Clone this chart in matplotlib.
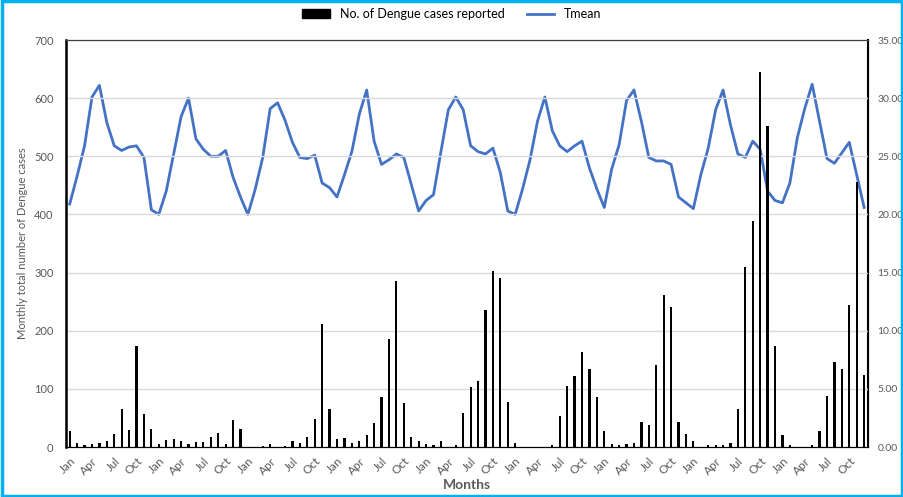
import numpy as np
import matplotlib.pyplot as plt
from matplotlib.patches import Patch
from matplotlib.lines import Line2D

plt.rcParams['font.family'] = ['Lato', 'DejaVu Sans']

# ---- data: 9 years of monthly values, Jan..Dec
month_names = ['Jan', 'Feb', 'Mar', 'Apr', 'May', 'Jun',
               'Jul', 'Aug', 'Sep', 'Oct', 'Nov', 'Dec']
n_years = 9

cases = [
    27, 7, 4, 5, 7, 11, 23, 65, 30, 173, 57, 31,
    5, 12, 14, 11, 5, 9, 9, 18, 24, 5, 47, 31,
    0, 0, 2, 5, 0, 2, 10, 7, 17, 48, 211, 66,
    14, 15, 7, 10, 20, 41, 86, 186, 285, 75, 17, 10,
    6, 3, 10, 0, 4, 58, 103, 114, 236, 302, 290, 77,
    7, 0, 0, 0, 0, 3, 54, 105, 122, 164, 134, 86,
    27, 6, 3, 5, 7, 43, 38, 141, 261, 241, 43, 23,
    10, 0, 3, 4, 3, 7, 65, 309, 389, 645, 552, 173,
    20, 3, 0, 0, 3, 28, 87, 146, 134, 245, 455, 124,
]

tmean = [
    20.9, 23.3, 25.9, 30.1, 31.1, 27.9, 25.9, 25.5, 25.8, 25.9, 24.9, 20.4,
    20.0, 22.0, 25.2, 28.4, 30.0, 26.5, 25.6, 25.0, 25.0, 25.5, 23.2, 21.5,
    20.0, 22.2, 24.9, 29.1, 29.6, 28.1, 26.2, 24.9, 24.8, 25.1, 22.7, 22.3,
    21.5, 23.4, 25.4, 28.6, 30.7, 26.3, 24.3, 24.7, 25.2, 24.9, 22.6, 20.3,
    21.2, 21.7, 25.4, 29.0, 30.1, 29.0, 25.9, 25.4, 25.2, 25.7, 23.6, 20.3,
    20.0, 22.2, 24.7, 28.0, 30.1, 27.2, 25.9, 25.4, 25.9, 26.3, 24.0, 22.2,
    20.6, 23.9, 26.0, 29.8, 30.7, 28.0, 24.9, 24.6, 24.6, 24.3, 21.5, 21.0,
    20.5, 23.4, 25.7, 29.0, 30.7, 27.7, 25.2, 24.9, 26.3, 25.6, 22.0, 21.2,
    21.0, 22.7, 26.6, 29.1, 31.2, 28.0, 24.8, 24.4, 25.3, 26.2, 23.4, 20.6,
]

labels = [month_names[k % 12] for k in range(n_years * 12)]
x = np.arange(len(cases))

grey = '#595959'
fig = plt.figure(figsize=(9.04, 4.97), dpi=100)
ax = fig.add_axes([0.073, 0.1006, 0.887, 0.8189])
ax2 = ax.twinx()

# line on the twin axis, bars drawn above it
ax2.plot(x, tmean, color='#4472C4', lw=2.0, zorder=2)
ax.bar(x, cases, width=0.3, color='black', zorder=3)
ax.set_zorder(ax2.get_zorder() + 1)
ax.patch.set_visible(False)

ax.set_xlim(-0.5, len(cases) - 0.5)
ax.set_ylim(0, 700)
ax.set_yticks(range(0, 701, 100))
ax2.set_ylim(0, 35)
ax2.set_yticks(range(0, 36, 5))
ax2.set_yticklabels([f'{v:.2f}' for v in range(0, 36, 5)])

ax.yaxis.grid(True, color='#d9d9d9', lw=1)
ax.set_axisbelow(True)

tick_pos = x[::3]
ax.set_xticks(tick_pos)
ax.set_xticklabels([labels[i] for i in tick_pos], rotation=45, ha='right',
                   rotation_mode='anchor', fontsize=8.5, color=grey)
ax.tick_params(axis='x', length=0, pad=6)
ax.tick_params(axis='y', length=0, labelsize=8, labelcolor=grey, pad=9)
ax2.tick_params(axis='y', length=0, labelsize=7.5, labelcolor=grey, pad=7)

for a in (ax, ax2):
    for s in a.spines.values():
        s.set_color('black')
ax.spines['left'].set_linewidth(1.8)
ax2.spines['right'].set_linewidth(1.5)
ax.spines['top'].set_color('#404040')
ax.spines['top'].set_linewidth(0.8)

ax.set_ylabel('Monthly total number of Dengue cases', fontsize=8, color=grey)
ax.set_xlabel('Months', fontsize=10, color=grey, fontweight='bold', labelpad=2)

handles = [Patch(color='black'), Line2D([0], [0], color='#4472C4', lw=2.0)]
fig.legend(handles, ['No. of Dengue cases reported', 'Tmean'],
           loc='center', bbox_to_anchor=(0.5, 0.972), ncol=2, frameon=False,
           fontsize=9, handlelength=2.2, columnspacing=1.8)

# light blue frame round the figure
fig.patches.append(plt.Rectangle((0.002, 0.003), 0.996, 0.994,
                                 transform=fig.transFigure, fill=False,
                                 edgecolor='#00B0F0', lw=2.5))

fig.savefig('out.png', dpi=100)
